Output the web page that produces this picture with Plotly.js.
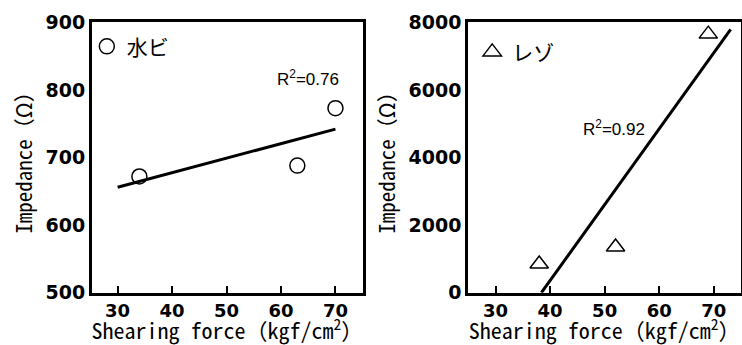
<!DOCTYPE html>
<html>
<head>
<meta charset="utf-8">
<script src="https://cdn.plot.ly/plotly-3.0.1.min.js"></script>
<style>html,body{margin:0;padding:0;background:#fff;}#chart{width:742px;height:345px;}</style>
</head>
<body>
<div id="chart"></div>
<script>
// Left panel: 水ビ
const mizubiName = '水ビ';
const mizubiShear = [34, 63, 70];
const mizubiImpedance = [672, 688, 773];
const mizubiFitX = [30, 70];
const mizubiFitY = [656, 742];
const mizubiR2 = 'R<sup>2</sup>=0.76';

// Right panel: レゾ
const rezoName = 'レゾ';
const rezoShear = [38, 52, 69];
const rezoImpedance = [850, 1350, 7650];
const rezoFitX = [38.4, 73.1];
const rezoFitY = [0, 7790];
const rezoR2 = 'R<sup>2</sup>=0.92';

const leftYTicks = [500, 600, 700, 800, 900];
const rightYTicks = [0, 2000, 4000, 6000, 8000];
const xTicks = [30, 40, 50, 60, 70];

const monoCJK = '"Noto Sans Mono CJK JP", "Noto Sans CJK JP", sans-serif';
const xTitleFont = {family: monoCJK, size: 22, color: '#000'};
const yTitleFont = {family: monoCJK, size: 21, color: '#000'};
const tickFontY = {family: '"DejaVu Sans", sans-serif', size: 19, color: '#000', weight: 'bold'};
const tickFontX = {family: '"DejaVu Sans", sans-serif', size: 18, color: '#000', weight: 'bold'};
const annFont = {family: '"Liberation Sans", Arial, sans-serif', size: 17, color: '#000'};
const legFont = {family: '"Noto Sans CJK JP", sans-serif', size: 21, color: '#000'};

const traces = [
  {x: mizubiShear, y: mizubiImpedance, mode: 'markers', name: mizubiName, xaxis: 'x', yaxis: 'y', legend: 'legend',
   marker: {symbol: 'circle-open', size: 15, color: '#000', line: {width: 1.5, color: '#000'}}},
  {x: mizubiFitX, y: mizubiFitY, mode: 'lines', showlegend: false, xaxis: 'x', yaxis: 'y',
   line: {color: '#000', width: 3}},
  {x: rezoShear, y: rezoImpedance, mode: 'markers', name: rezoName, xaxis: 'x2', yaxis: 'y2', legend: 'legend2',
   marker: {symbol: 'triangle-up-open', size: 16, color: '#000', line: {width: 1.5, color: '#000'}}},
  {x: rezoFitX, y: rezoFitY, mode: 'lines', showlegend: false, xaxis: 'x2', yaxis: 'y2',
   line: {color: '#000', width: 3}}
];

function xAxis(domain, range) {
  return {
    domain: domain, range: range, tickvals: xTicks, ticktext: xTicks.map(String),
    ticks: 'inside', ticklen: 7, tickwidth: 2, tickcolor: '#000',
    showline: true, linewidth: 3, linecolor: '#000', mirror: true,
    showgrid: false, zeroline: false, tickfont: tickFontX,
    title: {text: 'Shearing force（kgf/cm<sup>2</sup>）', font: xTitleFont, standoff: 8},
    automargin: false, fixedrange: true
  };
}
function yAxis(domain, range, ticks, anchor) {
  return {
    domain: domain, range: range, tickvals: ticks, ticktext: ticks.map(String), anchor: anchor,
    ticks: '', showline: true, linewidth: 3, linecolor: '#000', mirror: true,
    showgrid: false, zeroline: false, tickfont: tickFontY,
    title: {text: 'Impedance（Ω）', font: yTitleFont, standoff: 8},
    automargin: false, fixedrange: true
  };
}

const yDom = [0.1516, 0.9354];
const layout = {
  width: 742, height: 345,
  margin: {l: 0, r: 0, t: 0, b: 0},
  paper_bgcolor: '#fff', plot_bgcolor: '#fff',
  showlegend: true,
  xaxis: Object.assign(xAxis([0.1240, 0.4888], [25.3, 75]), {anchor: 'y'}),
  yaxis: yAxis(yDom, [500, 900], leftYTicks, 'x'),
  xaxis2: Object.assign(xAxis([0.6311, 0.9987], [25, 75]), {anchor: 'y2'}),
  yaxis2: yAxis(yDom, [0, 8000], rightYTicks, 'x2'),
  legend: {x: 0.117, y: 0.924, xanchor: 'left', yanchor: 'top', bgcolor: 'rgba(0,0,0,0)', font: legFont},
  legend2: {x: 0.6364, y: 0.908, xanchor: 'left', yanchor: 'top', bgcolor: 'rgba(0,0,0,0)', font: legFont},
  annotations: [
    {x: 65, y: 817, xref: 'x', yref: 'y', text: mizubiR2, showarrow: false, font: annFont},
    {x: 51.8, y: 4879, xref: 'x2', yref: 'y2', text: rezoR2, showarrow: false, font: annFont}
  ]
};

Plotly.newPlot('chart', traces, layout, {staticPlot: true, displayModeBar: false});
</script>
</body>
</html>
